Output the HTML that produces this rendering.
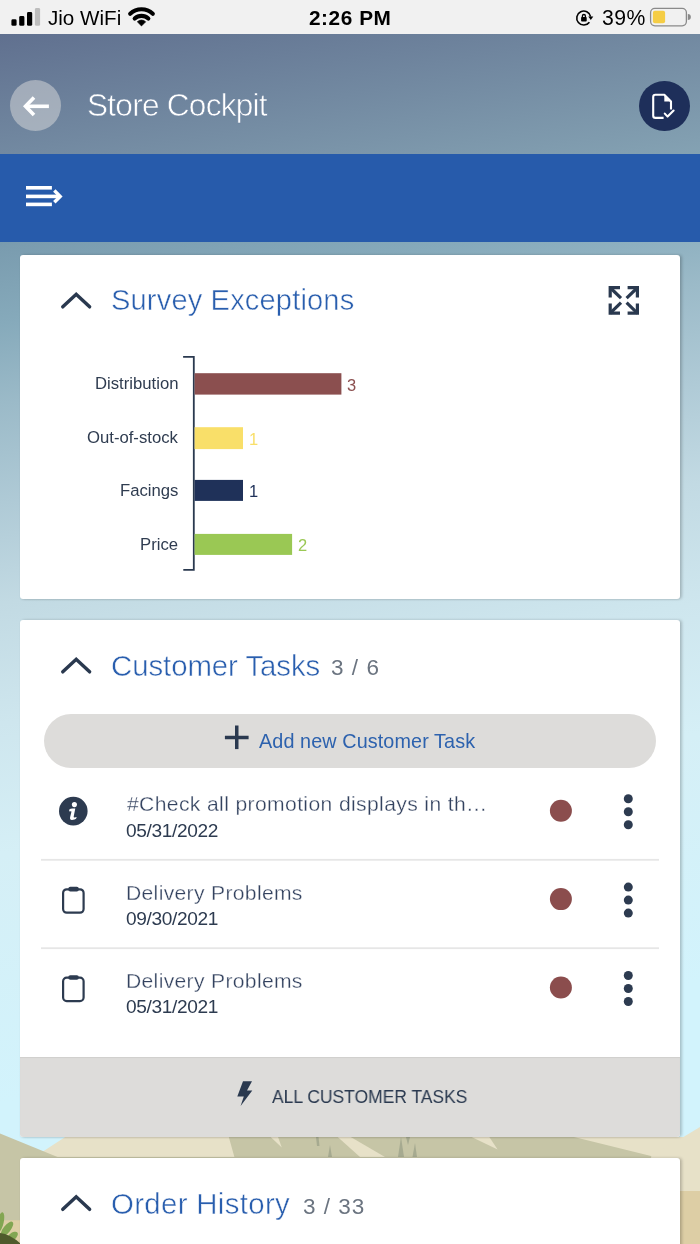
<!DOCTYPE html>
<html><head><meta charset="utf-8">
<style>
*{margin:0;padding:0;box-sizing:border-box}
html,body{width:700px;height:1244px;overflow:hidden;background:#d2f2fb}
body{position:relative;font-family:"Liberation Sans",sans-serif}
.a{position:absolute;white-space:nowrap}
.t{position:absolute;white-space:nowrap;line-height:1;will-change:transform}
.lw{-webkit-text-stroke:0.5px #fff}
.lw2{-webkit-text-stroke:0.3px #fff}
#bg{position:absolute;left:0;top:0}
.card{position:absolute;left:20px;width:660px;background:#fff;border-radius:3px;box-shadow:2px 0 3px rgba(0,0,0,0.2),0 1px 2px rgba(0,0,0,0.06)}
</style></head><body>
<svg id="bg" width="700" height="1244" viewBox="0 0 700 1244">
<defs>
<linearGradient id="hdr" x1="0" y1="0" x2="1" y2="1">
<stop offset="0" stop-color="#60708f"/>
<stop offset="1" stop-color="#84a2b3"/>
</linearGradient>
<linearGradient id="sky" gradientUnits="userSpaceOnUse" x1="0" y1="242" x2="188.6" y2="1332">
<stop offset="0" stop-color="#789aae"/>
<stop offset="0.0053" stop-color="#7a9caf"/>
<stop offset="0.073" stop-color="#86aabb"/>
<stop offset="0.144" stop-color="#9bbac8"/>
<stop offset="0.233" stop-color="#afcad6"/>
<stop offset="0.322" stop-color="#c2dae3"/>
<stop offset="0.429" stop-color="#cee6ee"/>
<stop offset="0.545" stop-color="#d5eff6"/>
<stop offset="0.768" stop-color="#d2f3fc"/>
<stop offset="1" stop-color="#d2f3fc"/>
</linearGradient>
</defs>
<rect x="0" y="0" width="700" height="34" fill="#f1f1f1"/>
<rect x="0" y="34" width="700" height="120" fill="url(#hdr)"/>
<rect x="0" y="154" width="700" height="88" fill="#275bab"/>
<rect x="0" y="242" width="700" height="1002" fill="url(#sky)"/>
<!-- mountains -->
<polygon points="43.7,1150.9 65.2,1137 700,1137 700,1244 0,1244 0,1160" fill="#e7e1c8"/>
<polygon points="0,1133.4 57.5,1156.9 0,1160" fill="#c6c5a6"/>
<polygon points="228.8,1137 574,1137 651,1156 700,1160 700,1244 0,1244 0,1157 234.4,1157" fill="#c6c5a6"/>
<polygon points="651,1156.5 700,1127 700,1244 660,1244" fill="#e7e1c8"/>
<polygon points="270.6,1137 278,1137 281.8,1147.5" fill="#e7e1c8"/>
<polygon points="337.7,1137 350.7,1137 385,1157 360,1157" fill="#e7e1c8"/>
<polygon points="471.6,1137 489.3,1137 497.6,1149.5" fill="#e7e1c8"/>
<g fill="#a6aa90">
<polygon points="316,1137 318.5,1137 319.5,1146 317,1146"/>
<polygon points="330,1145 328,1157 332,1157"/>
<polygon points="401,1137 398,1157 404,1157"/>
<polygon points="406,1137 410,1137 408,1145"/>
<polygon points="415,1143 412.5,1157 417,1157"/>
</g>
<rect x="0" y="1220.3" width="22" height="24" fill="#decfa6"/>
<rect x="680" y="1191" width="20" height="53" fill="#ddcea5"/>
<g fill="#82a652">
<ellipse cx="0.5" cy="1222" rx="3.2" ry="10" transform="rotate(12 0.5 1222)"/>
<ellipse cx="7" cy="1229" rx="3.6" ry="9" transform="rotate(38 7 1229)"/>
<ellipse cx="12" cy="1237" rx="3.6" ry="7" transform="rotate(50 12 1237)"/>
</g>
<path d="M0,1233 Q10,1234 21,1244 H0 Z" fill="#4f5a2c"/>
</svg>

<!-- status bar -->
<div class="t" style="left:48px;top:7.6px;font-size:20.6px;color:#000">Jio WiFi</div>
<div class="t" style="left:309.2px;top:7.6px;font-size:20.8px;font-weight:bold;color:#000;letter-spacing:0.55px">2:26 PM</div>
<div class="t" style="left:601.6px;top:7.2px;font-size:21.2px;color:#000;letter-spacing:0.5px">39%</div>

<!-- header -->
<div class="a" style="left:10px;top:80px;width:51px;height:51px;border-radius:50%;background:rgba(220,220,220,0.5)"></div>
<div class="t" style="left:87px;top:89.9px;font-size:31.6px;color:#fff;letter-spacing:-0.75px;-webkit-text-stroke:0.6px #6b809d">Store Cockpit</div>
<div class="a" style="left:639.2px;top:80.8px;width:50.4px;height:50px;border-radius:50%;background:#1e2f5a"></div>

<!-- card 1 -->
<div class="card" style="top:255px;height:344px"></div>
<div class="t lw" style="left:111.4px;top:286.3px;font-size:29.1px;color:#295eae;letter-spacing:0.14px">Survey Exceptions</div>

<!-- card 2 -->
<div class="card" style="top:620px;height:517px;overflow:hidden">
  <div class="a" style="left:0;top:436.6px;width:660px;height:81px;background:#dddcda;box-shadow:inset 0 1px 1px rgba(0,0,0,0.06)"></div>
</div>
<div class="t lw" style="left:111.4px;top:650.5px;font-size:29.4px;color:#295eae;letter-spacing:-0.07px">Customer Tasks</div>

<!-- card 3 -->
<div class="card" style="top:1157.5px;height:120px"></div>
<div class="t lw" style="left:111.4px;top:1189px;font-size:29.4px;color:#295eae;letter-spacing:0.33px">Order History</div>

<!-- chart labels -->
<div class="t" style="right:522px;top:376.3px;font-size:16.7px;color:#2f3c50">Distribution</div>
<div class="t" style="right:522px;top:430.3px;font-size:16.7px;color:#2f3c50">Out-of-stock</div>
<div class="t" style="right:522px;top:483px;font-size:16.7px;color:#2f3c50">Facings</div>
<div class="t" style="right:522px;top:537px;font-size:16.7px;color:#2f3c50">Price</div>
<div class="t" style="left:347px;top:376.7px;font-size:16.5px;color:#8b4f4f">3</div>
<div class="t" style="left:249.3px;top:430.8px;font-size:16.5px;color:#f9df69">1</div>
<div class="t" style="left:249.3px;top:482.9px;font-size:16.5px;color:#1f3159">1</div>
<div class="t" style="left:298px;top:537px;font-size:16.5px;color:#9ac854">2</div>
<!-- card2 -->
<div class="t" style="left:330.8px;top:656.5px;font-size:22.5px;color:#6b7480;letter-spacing:1.05px">3 / 6</div>
<div class="a" style="left:44px;top:714px;width:611.5px;height:54px;border-radius:27px;background:#dddcda"></div>
<div class="t" style="left:259.3px;top:731.8px;font-size:19.8px;color:#2d62ae;letter-spacing:0.1px">Add new Customer Task</div>
<div class="t lw2" style="left:127px;top:793.4px;font-size:21.1px;color:#33425f;letter-spacing:0.375px">#Check all promotion displays in th&hellip;</div>
<div class="t" style="left:126px;top:821.1px;font-size:19.1px;color:#2d3b50;letter-spacing:-0.35px">05/31/2022</div>
<div class="t lw2" style="left:126px;top:881.6px;font-size:21.1px;color:#33425f;letter-spacing:0.33px">Delivery Problems</div>
<div class="t" style="left:126px;top:909.4px;font-size:19.1px;color:#2d3b50;letter-spacing:-0.35px">09/30/2021</div>
<div class="t lw2" style="left:126px;top:969.9px;font-size:21.1px;color:#33425f;letter-spacing:0.33px">Delivery Problems</div>
<div class="t" style="left:126px;top:997px;font-size:19.1px;color:#2d3b50;letter-spacing:-0.35px">05/31/2021</div>
<div class="t" style="left:272px;top:1087.6px;font-size:18.8px;color:#2a394f;transform:scaleX(0.93);transform-origin:0 0">ALL CUSTOMER TASKS</div>
<!-- card3 -->
<div class="t" style="left:303.3px;top:1195.6px;font-size:22.5px;color:#6b7480;letter-spacing:1.0px">3 / 33</div>

<svg class="a" style="left:0;top:0" width="700" height="1244" viewBox="0 0 700 1244">
<!-- status: signal -->
<rect x="11.4" y="19.3" width="5.2" height="6.5" rx="1.4" fill="#000"/>
<rect x="19.2" y="16" width="5.2" height="9.8" rx="1.4" fill="#000"/>
<rect x="27" y="12" width="5.2" height="13.8" rx="1.4" fill="#000"/>
<rect x="34.9" y="8.1" width="5.2" height="17.7" rx="1.4" fill="#bdbdbd"/>
<!-- wifi -->
<g fill="none" stroke="#000" stroke-width="4.1" stroke-linecap="round">
<path d="M130.18,13.76 A16.6,16.6 0 0 1 152.82,13.76"/>
<path d="M134.68,18.59 A10,10 0 0 1 148.32,18.59"/>
</g>
<path d="M141.5,25.9 L137.4,21.8 A5.8,5.8 0 0 1 145.6,21.8 Z" fill="#000" stroke="#000" stroke-width="0.8" stroke-linejoin="round"/>
<!-- rotation lock -->
<path d="M590.6,16.6 A7,7 0 1 0 589.4,22.2" fill="none" stroke="#000" stroke-width="1.6"/>
<path d="M588.3,16.4 L593.3,16.4 L590.8,20 Z" fill="#000"/>
<rect x="581.1" y="17" width="5.6" height="4.6" rx="0.8" fill="#000"/>
<path d="M582.4,17.4 V16 A1.5,1.5 0 0 1 585.4,16 V17.4" fill="none" stroke="#000" stroke-width="1.3"/>
<!-- battery -->
<rect x="650.6" y="8.4" width="35.8" height="17.4" rx="4.2" fill="none" stroke="#8a8a8a" stroke-width="1.3"/>
<rect x="652.9" y="10.7" width="12.2" height="12.5" rx="2" fill="#f5cd45"/>
<path d="M687.8,14 A3,3 0 0 1 687.8,20.1 Z" fill="#8a8a8a"/>
<!-- back arrow -->
<g fill="none" stroke="#fff" stroke-width="3.6">
<path d="M34,97.6 L25.5,106.3 L34,115"/>
<path d="M26.5,106.3 H48.9"/>
</g>
<!-- doc icon -->
<g fill="none" stroke="#fff" stroke-width="2.1" stroke-linejoin="round">
<path d="M663.6,117.9 H655.4 A2.2,2.2 0 0 1 653.2,115.7 V96.9 A2.2,2.2 0 0 1 655.4,94.7 H664.3 L671,101.4 V109.5"/>
<path d="M664.8,113.6 L667.6,116.6 L673.6,110.6" stroke-linecap="round"/>
</g>
<path d="M664.3,94.7 L671,101.4 H664.3 Z" fill="#fff"/>
<!-- hamburger -->
<g fill="#fff">
<rect x="26" y="186" width="25.9" height="3.6"/>
<rect x="26" y="194.6" width="33" height="3.6"/>
<rect x="26" y="202.6" width="25.9" height="3.6"/>
</g>
<path d="M54.3,190.5 L60.2,196.4 L54.3,202.3" fill="none" stroke="#fff" stroke-width="3.4"/>
<!-- chevrons -->
<g fill="none" stroke="#2a394f" stroke-width="3.5" stroke-linecap="round" stroke-linejoin="miter">
<path d="M62.8,306.8 L76.2,294.3 L89.6,306.8"/>
<path d="M62.8,671.8 L76.2,659.3 L89.6,671.8"/>
<path d="M62.8,1209.3 L76.2,1196.8 L89.6,1209.3"/>
</g>
<!-- expand icon -->
<g fill="#2a394f">
<path d="M608.6,286.1 H620 V289.3 H611.8 V297.4 H608.6 Z"/>
<path d="M639,286.1 H627.6 V289.3 H635.8 V297.4 H639 Z"/>
<path d="M608.6,314.7 H620 V311.5 H611.8 V303.4 H608.6 Z"/>
<path d="M639,314.7 H627.6 V311.5 H635.8 V303.4 H639 Z"/>
</g>
<g stroke="#2a394f" stroke-width="3.2">
<path d="M610,287.5 L621,298.2"/>
<path d="M637.6,287.5 L626.6,298.2"/>
<path d="M610,313.3 L621,302.6"/>
<path d="M637.6,313.3 L626.6,302.6"/>
</g>
<!-- chart -->
<g fill="none" stroke="#2a394f" stroke-width="1.5">
<path d="M183.1,356.8 H193.8 V569.8 H183.3" stroke-width="1.8"/>
</g>
<rect x="194.6" y="373.2" width="146.8" height="21.4" fill="#8b4f4f"/>
<rect x="194.6" y="427.2" width="48.4" height="21.9" fill="#f9df69"/>
<rect x="194.6" y="479.9" width="48.4" height="21" fill="#1f3159"/>
<rect x="194.6" y="533.9" width="97.5" height="21" fill="#9ac854"/>
<!-- add button plus -->
<g stroke="#2a394f" stroke-width="3.5">
<path d="M224.9,737.5 H248.6"/>
<path d="M236.75,725.5 V749.1"/>
</g>
<!-- rows -->
<circle cx="73.3" cy="811.1" r="14.3" fill="#2d3b50"/>
<circle cx="74.4" cy="804.6" r="2.55" fill="#fff"/>
<path d="M69.1,809.7 Q70.5,808.6 72.4,808.6 H75.3 L73.7,816.5 Q73.5,817.6 74.6,817.5 L76.7,817.1 Q76.5,819.2 74.5,819.6 L72,819.9 Q69.6,820 70.1,817.3 L71.5,811.4 Q70.3,811.3 69.4,811.4 Z" fill="#fff"/>
<g fill="none" stroke="#2d3b50" stroke-width="2.2">
<rect x="63.1" y="889.3" width="20.5" height="23.4" rx="3.6"/>
<rect x="63.1" y="977.7" width="20.5" height="23.4" rx="3.6"/>
</g>
<rect x="68.3" y="886.8" width="10.5" height="4.6" rx="2" fill="#2d3b50"/>
<rect x="68.3" y="975.2" width="10.5" height="4.6" rx="2" fill="#2d3b50"/>
<g fill="#8b4d4d">
<circle cx="560.9" cy="810.7" r="11"/>
<circle cx="560.9" cy="899.1" r="11"/>
<circle cx="560.9" cy="987.5" r="11"/>
</g>
<g fill="#2d3b50">
<circle cx="628.3" cy="798.7" r="4.5"/><circle cx="628.3" cy="811.7" r="4.5"/><circle cx="628.3" cy="824.7" r="4.5"/>
<circle cx="628.3" cy="887.1" r="4.5"/><circle cx="628.3" cy="900.1" r="4.5"/><circle cx="628.3" cy="913.1" r="4.5"/>
<circle cx="628.3" cy="975.5" r="4.5"/><circle cx="628.3" cy="988.5" r="4.5"/><circle cx="628.3" cy="1001.5" r="4.5"/>
</g>
<g fill="#e6e6e6">
<rect x="41" y="858.9" width="618" height="1.8"/>
<rect x="41" y="947.3" width="618" height="1.8"/>
</g>
<!-- lightning -->
<path d="M243,1081.2 L252,1081.2 L247,1090.6 L252.3,1090.6 L240.6,1106 L243.8,1096.4 L237.3,1096.4 Z" fill="#2a394f"/>
</svg>
</body></html>
